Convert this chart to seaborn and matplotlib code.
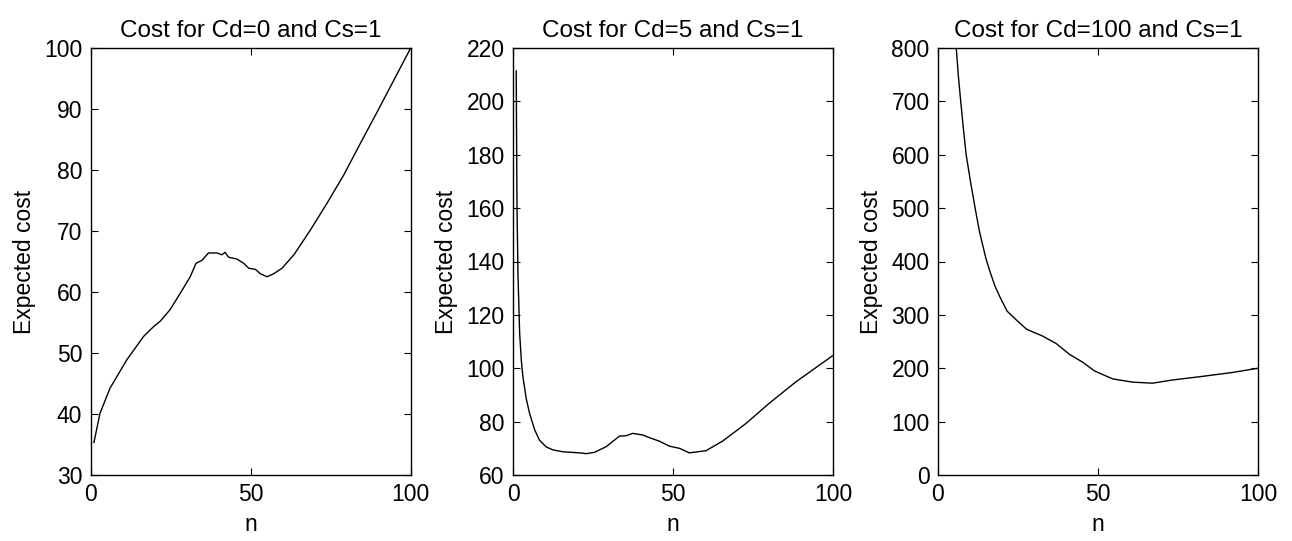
import numpy as np
import pandas as pd
import matplotlib
matplotlib.use("Agg")
import matplotlib.pyplot as plt
import seaborn as sns

# Panel 1: Cd=0, Cs=1
n1 = [1, 2.9, 6, 11.3, 16.5, 19.6, 21.7, 24.8, 28, 31.1, 32.9, 34.8, 36.8, 39.5, 41, 42,
      43.1, 45.7, 47.8, 49.4, 51.5, 53, 55.1, 57.2, 59.8, 63.5, 68.7, 73.9, 79.1, 84.3,
      89.6, 94.8, 100]
cost1 = [35.3, 40.1, 44.2, 48.9, 52.7, 54.3, 55.2, 57.1, 59.8, 62.5, 64.7, 65.2, 66.4, 66.4,
         66.1, 66.5, 65.7, 65.4, 64.7, 63.9, 63.7, 63.0, 62.5, 63.0, 63.9, 66.1, 70.2, 74.6,
         79.2, 84.4, 89.6, 94.8, 100.0]

# Panel 2: Cd=5, Cs=1
n2 = [1, 1.25, 1.56, 2.08, 2.6, 3.1, 4.15, 5.2, 6.75, 8.3, 10.4, 12.5, 15.6, 20.8, 22.9,
      25.5, 29.1, 33.3, 35.3, 37.4, 40.5, 42.6, 45.7, 48.9, 52, 55.1, 60.3, 65.5, 72.8,
      80, 88.4, 100]
cost2 = [211.5, 160, 135, 113, 103, 96.8, 88.5, 83, 77, 73, 70.5, 69.4, 68.7, 68.3, 68.0,
         68.5, 70.6, 74.6, 74.7, 75.6, 75.0, 74.0, 72.7, 70.8, 70.0, 68.3, 69.1, 72.7, 79.3,
         86.8, 94.9, 104.8]

# Panel 3: Cd=100, Cs=1
n3 = [4, 5, 5.7, 6.4, 7.1, 8, 8.8, 10.2, 11.6, 13, 15, 16.3, 17.8, 19.4, 21.6, 25.1, 27.7,
      32.8, 37, 41.1, 45.3, 48.9, 54.6, 60.8, 67, 73.3, 81.6, 91.9, 100]
cost3 = [1150, 930, 800, 745, 700, 645, 600, 548, 500, 455, 405, 380, 354, 333, 307, 287,
         273, 260, 246, 226, 211, 195, 180, 174, 172, 178, 184, 192, 200]

titles = ["Cost for Cd=0 and Cs=1", "Cost for Cd=5 and Cs=1", "Cost for Cd=100 and Cs=1"]
ylims = [(30, 100), (60, 220), (0, 800)]
yticks = [np.arange(30, 101, 10), np.arange(60, 221, 20), np.arange(0, 801, 100)]
xticks = [0, 50, 100]

sns.set_theme(style="white")
plt.rcParams['font.family'] = ['Liberation Sans', 'DejaVu Sans']
plt.rcParams['text.color'] = 'black'
plt.rcParams['axes.labelcolor'] = 'black'
plt.rcParams['xtick.color'] = 'black'
plt.rcParams['ytick.color'] = 'black'

fig = plt.figure(figsize=(12.92, 5.41), dpi=100)
lefts = [90.7 / 1292, 513 / 1292, 938 / 1292]
width = 320 / 1292
bottom = (541 - 475) / 541
height = 427 / 541

datasets = [(n1, cost1), (n2, cost2), (n3, cost3)]
for i, (xs, ys) in enumerate(datasets):
    ax = fig.add_axes([lefts[i], bottom, width, height])
    df = pd.DataFrame({"n": xs, "cost": ys})
    sns.lineplot(data=df, x="n", y="cost", ax=ax, color="black", linewidth=1.0)
    ax.set_xlim(0, 100)
    ax.set_ylim(*ylims[i])
    ax.set_xticks(xticks)
    ax.set_yticks(yticks[i])
    ax.set_title(titles[i], fontsize=17.5, pad=8, color="black")
    ax.set_xlabel("n", fontsize=16.5, labelpad=5)
    ax.set_ylabel("Expected cost", fontsize=16.5, labelpad=6)
    ax.tick_params(direction="in", length=5, width=0.8, labelsize=16.5,
                   top=True, right=True, bottom=True, left=True, colors="black",
                   pad=6)
    for sp in ax.spines.values():
        sp.set_visible(True)
        sp.set_color("black")
        sp.set_linewidth(1.0)
    ax.grid(False)
    ax.set_facecolor("white")

fig.patch.set_facecolor("white")
fig.savefig("out.png", dpi=100, facecolor="white")
